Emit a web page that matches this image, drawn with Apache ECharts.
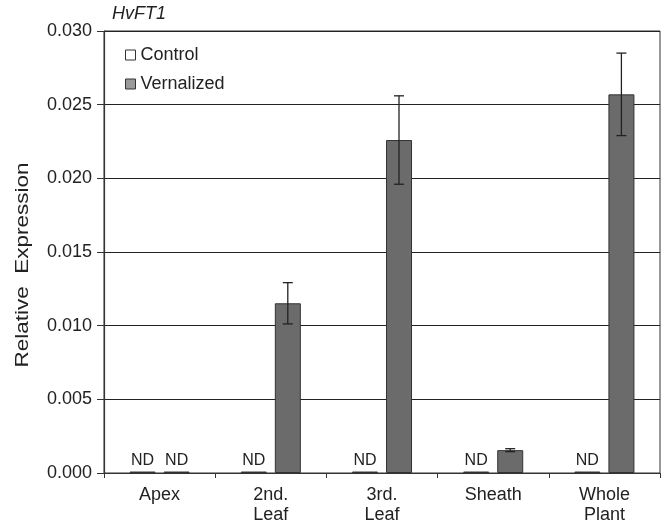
<!DOCTYPE html>
<html>
<head>
<meta charset="utf-8">
<script src="https://cdn.jsdelivr.net/npm/echarts@6/dist/echarts.min.js"></script>
<style>
  html, body { margin: 0; padding: 0; background: #fff; }
  #chart { width: 664px; height: 526px; }
</style>
</head>
<body>
<div id="chart"></div>
<script>
// 数据
var categories = ['Apex', '2nd.\nLeaf', '3rd.\nLeaf', 'Sheath', 'Whole\nPlant'];
var controlValues = [null, null, null, null, null];      // 全部 ND
var vernalizedValues = [null, 0.01152, 0.0226, 0.00155, 0.0257];
var vernalizedErr = [0, 0.0014, 0.003, 0.0001, 0.0028];
var ndMark = 0.0001;   // ND 画成贴着0的扁条
var yTicks = [0, 0.005, 0.010, 0.015, 0.020, 0.025, 0.030];

var font = 'Liberation Sans, Arial, sans-serif';

function withND(arr) {
  return arr.map(function (v) {
    if (v === null) {
      return { value: ndMark, itemStyle: { color: '#555', borderColor: '#333' }, label: { show: true, formatter: 'ND' } };
    }
    return { value: v, label: { show: false } };
  });
}

var errData = vernalizedValues.map(function (v, i) {
  return v === null ? null : [i, v - vernalizedErr[i], v + vernalizedErr[i]];
}).filter(function (d) { return d; });

var chart = echarts.init(document.getElementById('chart'));
var option = {
  backgroundColor: '#fff',
  animation: false,
  textStyle: { fontFamily: font },
  title: {
    text: 'HvFT1',
    left: 107,
    top: 0,
    textStyle: { fontStyle: 'italic', fontWeight: 'normal', fontSize: 18, color: '#222', fontFamily: font }
  },
  // 纵轴标题（原图文字被纵向拉长）
  graphic: [{
    type: 'text',
    x: 23,
    y: 265,
    rotation: Math.PI / 2,
    scaleX: 1.25,
    style: {
      text: 'Relative  Expression',
      fontSize: 18,
      fontFamily: font,
      fill: '#222',
      align: 'center',
      verticalAlign: 'middle'
    }
  }],
  legend: {
    orient: 'vertical',
    left: 120,
    top: 41,
    itemWidth: 10,
    itemHeight: 10,
    itemGap: 11,
    icon: 'rect',
    textStyle: { fontSize: 18, color: '#222', fontFamily: font },
    data: [
      { name: 'Control', itemStyle: { color: '#fff', borderColor: '#333', borderWidth: 1 } },
      { name: 'Vernalized', itemStyle: { color: '#9a9a9a', borderColor: '#333', borderWidth: 1 } }
    ]
  },
  grid: {
    left: 104,
    right: 4,
    top: 31,
    bottom: 53,
    show: true,
    borderColor: '#333',
    borderWidth: 1,
    outerBoundsMode: 'none'
  },
  xAxis: {
    type: 'category',
    data: categories,
    axisLine: { lineStyle: { color: '#333', width: 1.2 } },
    axisTick: { show: true, length: 5, lineStyle: { color: '#333' } },
    axisLabel: { color: '#222', fontSize: 18, lineHeight: 20, margin: 12, fontFamily: font }
  },
  yAxis: {
    type: 'value',
    min: 0,
    max: 0.03,
    interval: 0.005,
    axisLine: { show: true, lineStyle: { color: '#333', width: 1.2 } },
    axisTick: { show: true, length: 7, lineStyle: { color: '#333' } },
    axisLabel: {
      color: '#222', fontSize: 18, margin: 12, fontFamily: font,
      formatter: function (v) { return v.toFixed(3); }
    },
    splitLine: { show: true, lineStyle: { color: '#222', width: 1.2 } }
  },
  series: [
    {
      name: 'Control',
      type: 'bar',
      barWidth: 26,
      barGap: '31%',
      itemStyle: { color: '#fff', borderColor: '#333', borderWidth: 1 },
      label: { position: 'top', distance: 3, color: '#222', fontSize: 16, fontFamily: font },
      data: withND(controlValues)
    },
    {
      name: 'Vernalized',
      type: 'bar',
      barWidth: 26,
      barGap: '31%',
      itemStyle: { color: '#6b6b6b', borderColor: '#333', borderWidth: 1 },
      label: { position: 'top', distance: 3, color: '#222', fontSize: 16, fontFamily: font },
      data: withND(vernalizedValues)
    },
    {
      name: 'err',
      type: 'custom',
      z: 10,
      renderItem: function (params, api) {
        var i = api.value(0);
        var lo = api.coord([i, api.value(1)]);
        var hi = api.coord([i, api.value(2)]);
        var x = lo[0] + 17;
        var cap = 5;
        var st = { stroke: '#222', lineWidth: 1.3 };
        return {
          type: 'group',
          children: [
            { type: 'line', shape: { x1: x, y1: lo[1], x2: x, y2: hi[1] }, style: st },
            { type: 'line', shape: { x1: x - cap, y1: lo[1], x2: x + cap, y2: lo[1] }, style: st },
            { type: 'line', shape: { x1: x - cap, y1: hi[1], x2: x + cap, y2: hi[1] }, style: st }
          ]
        };
      },
      encode: { x: 0, y: [1, 2] },
      data: errData
    }
  ]
};
chart.setOption(option);
</script>
</body>
</html>
